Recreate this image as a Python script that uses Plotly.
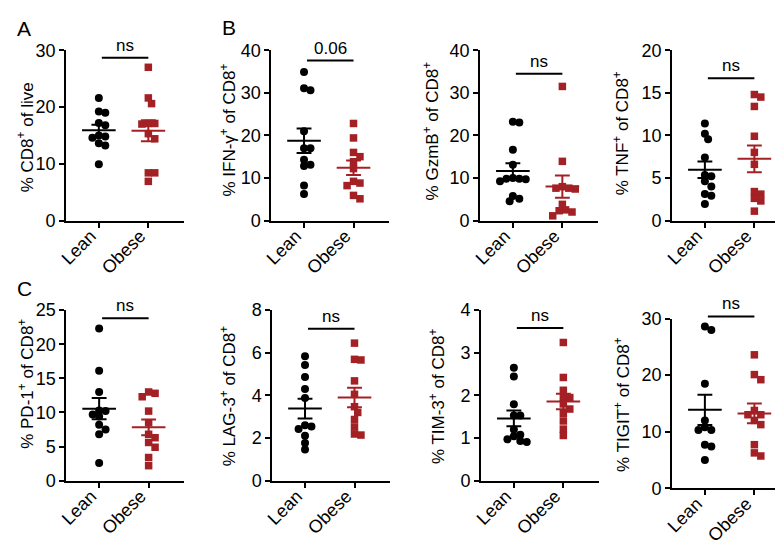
import numpy as np
import plotly.graph_objects as go

# ---------------- data ----------------
groups = ["Lean", "Obese"]

cd8_lean = [21.6, 19.2, 19.0, 17.2, 16.8, 15.0, 14.8, 14.6, 13.2, 13.6, 9.9]
cd8_obese = [27.0, 21.6, 20.6, 17.1, 17.1, 17.0, 15.3, 14.4, 8.4, 8.4, 6.9]

ifng_lean = [34.9, 30.6, 31.1, 21.0, 17.0, 17.0, 14.3, 13.1, 12.8, 8.2, 6.2]
ifng_obese = [22.8, 19.4, 16.0, 15.0, 13.8, 12.2, 9.2, 8.8, 8.2, 5.9, 5.1]

gzmb_lean = [23.0, 23.2, 16.6, 13.1, 10.0, 9.8, 9.7, 9.8, 9.2, 4.5, 5.75, 5.1]
gzmb_obese = [31.5, 13.9, 7.95, 7.4, 7.6, 7.6, 3.8, 2.5, 2.0, 2.3, 1.1]

tnf_lean = [11.4, 10.2, 9.55, 7.4, 5.35, 5.2, 4.6, 4.0, 3.1, 2.9, 1.95]
tnf_obese = [14.8, 14.5, 13.4, 9.9, 8.0, 6.6, 3.1, 3.4, 2.6, 2.3, 1.1]

pd1_lean = [22.3, 16.1, 13.0, 10.2, 10.3, 9.7, 9.4, 8.2, 7.5, 6.8, 2.6]
pd1_obese = [12.3, 12.8, 13.0, 10.2, 8.5, 6.3, 6.8, 5.6, 4.9, 3.4, 2.2]

lag3_lean = [5.84, 5.43, 4.86, 4.30, 3.88, 2.42, 2.54, 2.60, 2.11, 1.77, 1.46]
lag3_obese = [6.45, 5.69, 5.66, 4.68, 4.05, 3.47, 3.20, 2.87, 2.52, 2.14, 2.19]

tim3_lean = [2.65, 2.44, 1.79, 1.53, 1.53, 1.20, 1.08, 1.04, 0.91, 0.93, 0.97]
tim3_obese = [3.24, 2.42, 2.12, 1.95, 1.95, 1.68, 1.80, 1.58, 1.40, 1.21, 1.06]

tigit_lean = [28.0, 28.6, 18.5, 12.0, 10.8, 10.3, 10.3, 7.4, 7.7, 5.0]
tigit_obese = [23.6, 20.1, 19.2, 13.75, 12.0, 13.0, 13.0, 11.25, 7.7, 6.25, 5.7]

y_titles = [
    "% CD8<sup>+</sup> of live",
    "% IFN-γ<sup>+</sup> of CD8<sup>+</sup>",
    "% GzmB<sup>+</sup> of CD8<sup>+</sup>",
    "% TNF<sup>+</sup> of CD8<sup>+</sup>",
    "% PD-1<sup>+</sup> of CD8<sup>+</sup>",
    "% LAG-3<sup>+</sup> of CD8<sup>+</sup>",
    "% TIM-3<sup>+</sup> of CD8<sup>+</sup>",
    "% TIGIT<sup>+</sup> of CD8<sup>+</sup>",
]
y_max = [30, 40, 40, 20, 25, 8, 4, 30]
y_dtick = [10, 10, 10, 5, 5, 2, 1, 10]
sig_labels = ["ns", "0.06", "ns", "ns", "ns", "ns", "ns", "ns"]
sig_heights = [28.7, 37.6, 34.5, 16.7, 23.8, 7.12, 3.58, 30.4]
panel_letters = ["A", "B", "C"]

series = [
    (cd8_lean, cd8_obese), (ifng_lean, ifng_obese), (gzmb_lean, gzmb_obese),
    (tnf_lean, tnf_obese), (pd1_lean, pd1_obese), (lag3_lean, lag3_obese),
    (tim3_lean, tim3_obese), (tigit_lean, tigit_obese),
]

# ---------------- layout / style ----------------
W, H = 783, 540
FONT = "Liberation Sans, Arial, sans-serif"
BLACK = "#000000"
RED = "#A32025"
colors = [BLACK, RED]
symbols = ["circle", "square"]
msizes = [8, 7.5]
TICK_FS = 18
TITLE_FS = 17

X_MIN, X_MAX = -0.66, 1.72
PPU_X = 50.0  # pixels per x unit
# (left px, top px, bottom px, title center x, title center y)
geom = [
    (50.7, 33.5, 210.3, 10, 124),
    (258.0, 33.5, 210.3, 214, 116),
    (469.0, 33.5, 210.3, 419, 117),
    (663.0, 33.5, 210.3, 611, 120),
    (51.0, 303.3, 480.5, 10, 380),
    (259.0, 303.3, 480.5, 215, 392),
    (470.0, 303.3, 480.5, 426, 393),
    (663.0, 312.2, 488.3, 612, 401),
]
letter_pos = [(8.5, 11), (215, 10), (8.5, 281)]


def swarm(vals, px_per_unit, step=3.25, min_d=6.3):
    vals = np.asarray(vals, float)
    order = np.argsort(-vals, kind="stable")
    placed = []
    offs = np.zeros(len(vals))
    cands = [0.0] + [s * j for j in range(1, 30) for s in (1, -1)]
    for i in order:
        yp = vals[i] * px_per_unit
        xp = 0.0
        for c in cands:
            xp = c * step
            if all((xp - a) ** 2 + (yp - b) ** 2 >= min_d ** 2 for a, b in placed):
                break
        placed.append((xp, yp))
        offs[i] = xp / PPU_X
    return offs


fig = go.Figure()
annotations = []
shapes = []

for p, ((lean, obese), (left, top, bottom, tcx, tcy)) in enumerate(zip(series, geom)):
    ax = "" if p == 0 else str(p + 1)
    xa, ya = "x" + ax, "y" + ax
    width_px = (X_MAX - X_MIN) * PPU_X
    px_per_unit = (bottom - top) / y_max[p]

    for g, vals in enumerate((lean, obese)):
        vals = np.asarray(vals, float)
        offs = swarm(vals, px_per_unit)
        fig.add_trace(go.Scatter(
            x=g + offs, y=vals, mode="markers", xaxis=xa, yaxis=ya,
            marker=dict(symbol=symbols[g], size=msizes[g], color=colors[g], line=dict(width=0)),
            cliponaxis=False, showlegend=False, hoverinfo="y"))
    for g, vals in enumerate((lean, obese)):
        vals = np.asarray(vals, float)
        m = vals.mean()
        sem = vals.std(ddof=1) / np.sqrt(len(vals))
        xs = [g - 0.34, g + 0.34, None, g, g, None, g - 0.15, g + 0.15, None, g - 0.15, g + 0.15]
        ys = [m, m, None, m - sem, m + sem, None, m + sem, m + sem, None, m - sem, m - sem]
        fig.add_trace(go.Scatter(
            x=xs, y=ys, mode="lines", xaxis=xa, yaxis=ya,
            line=dict(color=colors[g], width=2), showlegend=False, hoverinfo="skip"))

    fig.layout["xaxis" + ax] = dict(
        domain=[left / W, (left + width_px) / W], anchor=ya, range=[X_MIN, X_MAX],
        tickvals=[0, 1], ticktext=groups, tickangle=-45, showgrid=False, zeroline=False,
        showline=True, linecolor=BLACK, linewidth=2, ticks="outside", ticklen=5,
        tickwidth=2, tickcolor=BLACK, ticklabelstandoff=-9, ticklabelshift=-8,
        tickfont=dict(family=FONT, size=TICK_FS, color=BLACK))
    fig.layout["yaxis" + ax] = dict(
        domain=[1 - bottom / H, 1 - top / H], anchor=xa, range=[0, y_max[p]],
        tick0=0, dtick=y_dtick[p], showgrid=False, zeroline=False,
        showline=True, linecolor=BLACK, linewidth=2, ticks="outside", ticklen=5,
        tickwidth=2, tickcolor=BLACK, tickfont=dict(family=FONT, size=TICK_FS, color=BLACK))

    # y-axis title
    annotations.append(dict(
        x=tcx / W, y=1 - tcy / H, xref="paper", yref="paper", text=y_titles[p],
        textangle=-90, showarrow=False, xanchor="center", yanchor="middle",
        font=dict(family=FONT, size=TITLE_FS, color=BLACK)))

    # significance bracket
    def to_px(xv, yv):
        return left + (xv - X_MIN) * PPU_X, bottom - yv * px_per_unit
    x0p, yb = to_px(0.06, sig_heights[p])
    x1p, _ = to_px(1.0, sig_heights[p])
    shapes.append(dict(type="line", xref="paper", yref="paper",
                       x0=x0p / W, x1=x1p / W, y0=1 - yb / H, y1=1 - yb / H,
                       line=dict(color=BLACK, width=2)))
    annotations.append(dict(
        x=(x0p + x1p) / 2 / W, y=1 - (yb - 1) / H, xref="paper", yref="paper",
        text=sig_labels[p], showarrow=False, xanchor="center", yanchor="bottom",
        font=dict(family=FONT, size=17, color=BLACK)))

for letter, (lx, ly) in zip(panel_letters, letter_pos):
    annotations.append(dict(
        x=lx / W, y=1 - ly / H, xref="paper", yref="paper", text=letter,
        showarrow=False, xanchor="center", yanchor="middle",
        font=dict(family=FONT, size=21, color=BLACK)))

fig.update_layout(
    width=W, height=H, autosize=False, margin=dict(l=0, r=0, t=0, b=0),
    paper_bgcolor="white", plot_bgcolor="white", showlegend=False,
    annotations=annotations, shapes=shapes, font=dict(family=FONT, color=BLACK))

fig.write_html("out.html")
